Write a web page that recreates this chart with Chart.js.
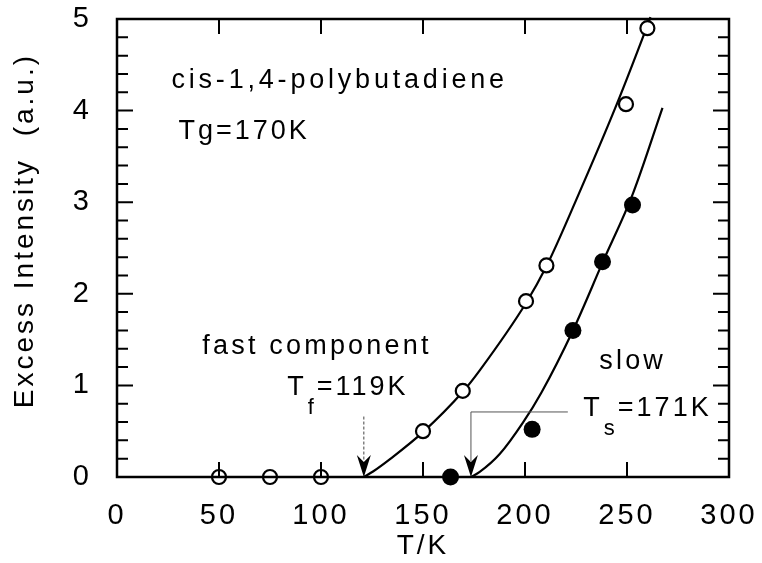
<!DOCTYPE html>
<html>
<head>
<meta charset="utf-8">
<script src="https://cdn.jsdelivr.net/npm/chart.js@4.4.1/dist/chart.umd.min.js"></script>
<style>
  html, body { margin: 0; padding: 0; background: #fff; }
  #wrap { width: 762px; height: 563px; }
</style>
</head>
<body>
<div id="wrap"><canvas id="c" width="762" height="563"></canvas></div>
<script>
// ---- data ----
const fastT = [50, 75, 100, 150, 169.5, 200.5, 210.5, 249.5, 260];
const fastI = [0, 0, 0, 0.5, 0.94, 1.92, 2.31, 4.07, 4.9];
const slowT = [163.5, 203.5, 223.5, 238, 252.7];
const slowI = [0, 0.52, 1.6, 2.35, 2.97];

const fastFitT = [121, 125.5, 133.5, 150, 169.5, 178, 200.5, 210.5, 225, 245, 259.5, 261.5];
const fastFitI = [0, 0.06, 0.19, 0.49, 0.93, 1.17, 1.90, 2.30, 3.02, 4.07, 4.90, 5.02];
const slowFitT = [173.5, 177.8, 187.6, 198.9, 208, 223.5, 238, 253, 267.4];
const slowFitI = [0, 0.055, 0.25, 0.59, 0.92, 1.6, 2.34, 3.10, 4.03];

const xTickValues = [0, 50, 100, 150, 200, 250, 300];
const yTickLabels = ['0', '1', '2', '3', '4', '5'];

const Tf = 121;       // arrow position of fast onset (K)
const Ts = 173.5;     // arrow position of slow onset (K)

const FONT = "'Liberation Sans', Arial, Helvetica, sans-serif";

function pts(xs, ys) { return xs.map((x, i) => ({ x: x, y: ys[i] })); }

const bgPlugin = {
  id: 'bg',
  beforeUpdate(chart) { chart.ctx.letterSpacing = '3px'; },
  beforeLayout(chart) { chart.ctx.letterSpacing = '3px'; },
  beforeDraw(chart) {
    const ctx = chart.ctx;
    ctx.save();
    ctx.fillStyle = '#fff';
    ctx.fillRect(0, 0, chart.width, chart.height);
    ctx.restore();
    ctx.letterSpacing = '3px';
  }
};

function arrowHead(ctx, x, y) {
  ctx.beginPath();
  ctx.moveTo(x, y);
  ctx.lineTo(x - 7, y - 22);
  ctx.lineTo(x, y - 15);
  ctx.lineTo(x + 7, y - 22);
  ctx.closePath();
  ctx.fill();
}

function textSub(ctx, x, y, main, sub, rest) {
  ctx.font = '27px ' + FONT;
  ctx.fillText(main, x, y);
  let cx = x + ctx.measureText(main).width + 1;
  ctx.font = '22px ' + FONT;
  ctx.fillText(sub, cx, y + 19);
  cx += ctx.measureText(sub).width;
  ctx.font = '27px ' + FONT;
  ctx.fillText(rest, cx, y);
}

const framePlugin = {
  id: 'frame',
  afterDatasetsDraw(chart) {
    const ctx = chart.ctx;
    const a = chart.chartArea;
    const xs = chart.scales.x, ys = chart.scales.y;
    ctx.save();
    ctx.strokeStyle = '#000';
    ctx.lineWidth = 2.5;
    ctx.strokeRect(a.left, a.top, a.right - a.left, a.bottom - a.top);
    ctx.lineWidth = 2;
    ctx.beginPath();
    xs.ticks.forEach(t => {
      const px = xs.getPixelForValue(t.value);
      if (px <= a.left + 1 || px >= a.right - 1) return;
      ctx.moveTo(px, a.bottom); ctx.lineTo(px, a.bottom - 15);
      ctx.moveTo(px, a.top); ctx.lineTo(px, a.top + 15);
    });
    ys.ticks.forEach(t => {
      const py = ys.getPixelForValue(t.value);
      if (py <= a.top + 1 || py >= a.bottom - 1) return;
      const major = Math.abs(t.value - Math.round(t.value)) < 1e-6;
      const len = major ? 16 : 11;
      ctx.moveTo(a.left, py); ctx.lineTo(a.left + len, py);
      ctx.moveTo(a.right, py); ctx.lineTo(a.right - len, py);
    });
    ctx.stroke();

    // arrows
    ctx.fillStyle = '#000';
    ctx.strokeStyle = '#444';
    ctx.lineWidth = 1;
    const fx = xs.getPixelForValue(Tf), y0 = ys.getPixelForValue(0);
    ctx.setLineDash([3, 2]);
    ctx.beginPath();
    ctx.moveTo(fx, ys.getPixelForValue(0.66));
    ctx.lineTo(fx, y0 - 16);
    ctx.stroke();
    ctx.setLineDash([]);
    arrowHead(ctx, fx, y0);

    const sx = xs.getPixelForValue(Ts);
    const sy = ys.getPixelForValue(0.71);
    ctx.strokeStyle = '#555';
    ctx.beginPath();
    ctx.moveTo(xs.getPixelForValue(221), sy);
    ctx.lineTo(sx, sy);
    ctx.lineTo(sx, y0 - 16);
    ctx.stroke();
    arrowHead(ctx, sx, y0);

    // annotation text
    ctx.fillStyle = '#000';
    ctx.textAlign = 'left';
    ctx.textBaseline = 'alphabetic';
    ctx.letterSpacing = '3.8px';
    ctx.font = '27px ' + FONT;
    ctx.fillText('cis-1,4-polybutadiene', xs.getPixelForValue(26.7), ys.getPixelForValue(4.25));
    ctx.letterSpacing = '3px';
    ctx.fillText('Tg=170K', xs.getPixelForValue(30.1), ys.getPixelForValue(3.69));
    ctx.letterSpacing = '3.2px';
    ctx.fillText('fast component', xs.getPixelForValue(41.8), ys.getPixelForValue(1.34));
    ctx.fillText('slow', xs.getPixelForValue(236.4), ys.getPixelForValue(1.18));
    ctx.letterSpacing = '3px';
    textSub(ctx, xs.getPixelForValue(83.4), ys.getPixelForValue(0.895), 'T', 'f', '=119K');
    textSub(ctx, xs.getPixelForValue(228.6), ys.getPixelForValue(0.666), 'T', 's', '=171K');

    // y axis title (drawn rotated, slightly above centre as in the reference)
    ctx.save();
    ctx.font = '28px ' + FONT;
    ctx.letterSpacing = '3px';
    ctx.textAlign = 'center';
    ctx.textBaseline = 'alphabetic';
    ctx.translate(33, ys.getPixelForValue(2.69));
    ctx.rotate(-Math.PI / 2);
    ctx.fillText('Excess Intensity  (a.u.)', 0, 0);
    ctx.restore();
    ctx.restore();
  }
};

const chart = new Chart(document.getElementById('c'), {
  type: 'scatter',
  data: {
    datasets: [
      {
        label: 'fast',
        data: pts(fastT, fastI),
        pointRadius: 7,
        pointBorderWidth: 2.2,
        pointBackgroundColor: '#fff',
        pointBorderColor: '#000',
        showLine: false,
        clip: false
      },
      {
        label: 'slow',
        data: pts(slowT, slowI),
        pointRadius: 8.5,
        pointBorderWidth: 0,
        pointBackgroundColor: '#000',
        pointBorderColor: '#000',
        showLine: false,
        clip: false
      },
      {
        label: 'fast fit',
        data: pts(fastFitT, fastFitI),
        showLine: true,
        pointRadius: 0,
        borderColor: '#000',
        borderWidth: 2.2,
        cubicInterpolationMode: 'monotone',
        clip: false
      },
      {
        label: 'slow fit',
        data: pts(slowFitT, slowFitI),
        showLine: true,
        pointRadius: 0,
        borderColor: '#000',
        borderWidth: 2.2,
        cubicInterpolationMode: 'monotone',
        clip: false
      }
    ]
  },
  options: {
    responsive: false,
    animation: false,
    events: [],
    layout: { padding: 0 },
    plugins: { legend: { display: false }, tooltip: { enabled: false } },
    scales: {
      x: {
        type: 'linear',
        min: 0, max: 300,
        afterBuildTicks(scale) { scale.ticks = xTickValues.map(v => ({ value: v })); },
        grid: { display: false, drawTicks: false },
        border: { display: false },
        ticks: {
          color: '#000',
          padding: 22,
          maxRotation: 0,
          autoSkip: false,
          font: { family: FONT, size: 29 }
        },
        title: {
          display: true,
          text: 'T/K',
          color: '#000',
          padding: { top: 0, bottom: 0 },
          font: { family: FONT, size: 28 }
        },
        afterFit(scale) {
          scale.height = 86;
          scale.paddingLeft = 0;
          scale.paddingRight = 33;
          scale.paddingTop = 0;
          scale.paddingBottom = 0;
        }
      },
      y: {
        type: 'linear',
        min: 0, max: 5,
        grid: { display: false, drawTicks: false },
        border: { display: false },
        ticks: {
          stepSize: 0.2,
          autoSkip: false,
          color: '#000',
          padding: 25,
          font: { family: FONT, size: 29 },
          callback(v) {
            const r = Math.round(v);
            return Math.abs(v - r) < 1e-6 ? yTickLabels[r] : '';
          }
        },
        title: { display: false },
        afterFit(scale) {
          scale.width = 117;
          scale.paddingTop = 19;
          scale.paddingBottom = 0;
          scale.paddingLeft = 0;
          scale.paddingRight = 0;
        }
      }
    }
  },
  plugins: [bgPlugin, framePlugin]
});
</script>
</body>
</html>
